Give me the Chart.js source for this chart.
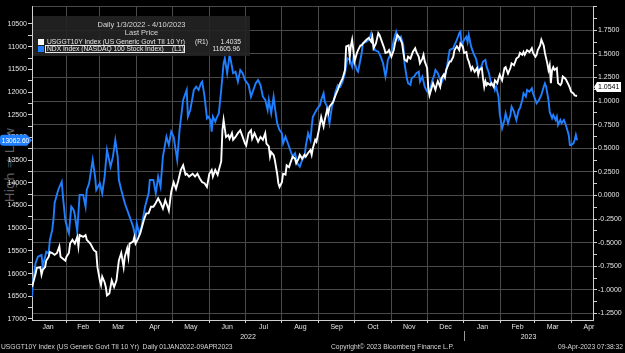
<!DOCTYPE html>
<html><head><meta charset="utf-8">
<script src="https://cdn.jsdelivr.net/npm/chart.js@4.4.0/dist/chart.umd.min.js"></script>
<style>
html,body{margin:0;padding:0;background:#000;}
#wrap{position:relative;width:625px;height:353px;overflow:hidden;background:#000;font-family:"Liberation Sans",Arial,sans-serif;}
#c{position:absolute;left:0;top:0;}
.t{position:absolute;white-space:pre;color:#e8e8e8;line-height:8px;}
.h{font-size:7.5px;color:#d8d8d8;}
.r{font-size:6.7px;}
.f{font-size:6.7px;color:#d6d6d6;top:343px;}
.sq{position:absolute;width:6px;height:6px;}
</style></head>
<body>
<div id="wrap">
<div class="t" style="left:-30px;top:158px;width:80px;text-align:center;font-family:'DejaVu Sans',sans-serif;font-size:13px;line-height:14px;color:#5e5e5e;transform:rotate(-90deg);">High ⇒ Low</div>
<canvas id="c" width="625" height="353"></canvas>
<div style="position:absolute;left:33px;top:16px;width:217px;height:40px;background:rgba(36,36,36,0.9);"></div>
<div class="t h" style="left:33px;width:217px;text-align:center;top:21px">Daily 1/3/2022 - 4/10/2023</div>
<div class="t h" style="left:33px;width:217px;text-align:center;top:29px">Last Price</div>
<div class="sq" style="left:38px;top:39px;background:#fff;"></div>
<div class="t r" style="left:47px;top:38px">USGGT10Y Index (US Generic Govt TII 10 Yr)</div>
<div class="t r" style="left:195px;top:38px">(R1)</div>
<div class="t r" style="right:384px;top:38px">1.4035</div>
<div class="sq" style="left:38px;top:46px;background:#1f7fff;"></div>
<div style="position:absolute;left:45px;top:44.5px;width:140px;height:8px;border:1px solid #e8e8e8;box-sizing:border-box;"></div>
<div class="t r" style="left:47px;top:45px">NDX Index (NASDAQ 100 Stock Index)</div>
<div class="t r" style="left:172px;top:45px">(L1)</div>
<div class="t r" style="right:385px;top:45px">11605.96</div>
<div class="t f" style="left:1px;">USGGT10Y Index (US Generic Govt TII 10 Yr)  Daily 01JAN2022-09APR2023</div>
<div class="t f" style="left:331px;">Copyright© 2023 Bloomberg Finance L.P.</div>
<div class="t f" style="right:2px;">09-Apr-2023 07:38:32</div>
</div>
<script>
// x values: calendar days elapsed since 2022-01-03
const START_DATE = Date.UTC(2022, 0, 3);
const X_MAX = 471.4;

const ndxDay = [0,1,3,5,8,9,12,14,15,17,18,19,22,25,26,28,30,31,33,35,36,38,40,43,45,46,48,51,53,54,57,59,61,63,66,68,70,72,73,75,78,80,82,85,87,88,90,92,95,98,99,102,104,106,108,110,113,115,117,119,122,124,126,127,130,131,133,136,138,140,142,143,145,147,148,150,151,152,154,155,157,159,161,162,164,166,167,169,171,173,175,177,179,182,184,186,188,190,192,194,196,198,199,201,203,204,206,208,210,211,213,215,217,219,221,223,225,227,229,230,232,234,235,236,239,241,242,243,245,246,248,249,250,252,254,255,257,259,261,263,265,267,269,270,273,274,277,278,281,283,285,287,288,291,293,295,297,298,299,301,302,304,306,308,310,312,313,315,316,318,319,321,323,325,326,328,330,332,334,336,338,339,341,343,344,346,348,350,351,354,355,357,359,360,361,363,365,366,367,369,371,373,374,375,377,379,381,382,384,386,388,389,390,392,393,395,397,398,400,402,403,405,407,409,410,412,413,415,416,418,420,421,423,424,426,428,430,431,432,434,435,437,438,440,441,442,444,445,447,449,451,452,453,455,456,457,458];
const ndxValue = [16509,16141,15773,15628,15590,15848,15518,15553,15260,15039,14819,14444,14158,13975,14306,14819,15039,15112,14526,14599,14709,15077,14268,14268,14526,14158,14010,13497,13865,14158,14010,14231,13865,13277,13645,13424,13056,13424,13938,14158,14451,14599,14746,14967,15222,14892,15112,14967,14526,14231,13938,13938,14231,13865,14085,13424,12983,13166,12873,12983,13497,12836,12395,12175,11954,12543,12395,11954,11882,11954,11807,11771,12102,12578,12543,12615,12873,12543,12653,12578,12468,11954,11366,11256,11586,11183,11293,11586,11551,11771,11514,11586,11734,11844,12102,11954,11807,11734,11844,12102,12175,12395,12175,12468,12102,12322,12688,12836,12909,13129,12983,13129,13277,13424,13349,13570,13645,13497,13424,13204,12909,13056,12763,12543,12395,12322,12285,12175,12027,12212,12322,12543,12688,12322,12137,11992,11844,11882,11771,11586,11256,11293,11441,11256,11514,11551,11146,10925,10890,10853,10705,10963,11073,11110,11221,11366,11661,11514,11293,11183,11110,10853,10670,10853,10780,10963,11366,11697,11807,11844,11697,11661,11586,11551,11771,11661,11882,11992,12027,11771,11624,11514,11586,11734,11807,11661,11551,11221,11073,11035,10963,10853,10705,10670,10963,10853,10780,10897,10742,11000,11146,11256,11366,11514,11476,11331,11293,11441,11586,11844,11807,11954,11882,12102,12468,12798,12615,12468,12688,12505,12322,12433,12615,12395,12358,12175,12027,12102,11954,11992,11917,12027,12175,12247,12175,12065,11882,11807,11882,12175,12433,12578,12505,12615,12543,12726,12615,12688,12615,12763,12946,13166,13166,13129,13056,12946,13062.60];

const tiiDay = [0,3,4,7,8,9,11,12,14,15,17,19,21,23,24,26,28,29,31,32,34,36,38,39,40,43,45,46,49,52,54,55,57,58,59,61,62,63,65,66,67,69,71,72,73,75,77,78,80,81,82,85,86,87,89,91,94,96,98,100,102,104,106,108,110,112,114,115,117,119,121,123,125,127,129,130,132,135,137,139,141,143,145,147,149,151,152,154,156,157,159,160,161,163,165,166,168,169,171,173,175,177,179,180,182,184,185,187,189,190,192,194,196,197,199,200,201,203,204,206,207,208,210,211,213,214,216,217,219,221,222,224,225,227,229,230,232,234,235,236,238,239,241,242,243,245,246,248,249,250,253,255,257,259,261,263,264,266,267,268,269,270,271,273,274,276,277,278,281,283,285,286,287,289,291,292,294,296,297,299,300,302,304,305,307,309,311,312,313,315,316,318,320,322,323,325,326,328,329,330,332,333,334,336,337,339,340,341,343,344,346,347,348,351,352,354,355,357,359,360,362,363,365,366,367,369,370,372,374,375,376,378,379,380,381,382,383,385,386,388,389,391,392,393,395,397,398,400,402,403,405,407,409,410,412,413,414,416,418,420,421,423,424,425,427,428,430,431,433,434,435,436,437,438,439,441,442,444,445,446,448,449,451,452,453,455,456,458];
const tiiValue = [-0.97,-0.83,-0.77,-0.76,-0.84,-0.79,-0.76,-0.69,-0.65,-0.60,-0.61,-0.63,-0.61,-0.54,-0.65,-0.67,-0.69,-0.65,-0.61,-0.51,-0.47,-0.51,-0.44,-0.54,-0.42,-0.44,-0.42,-0.47,-0.51,-0.58,-0.60,-0.76,-0.90,-0.95,-0.86,-0.92,-0.97,-1.06,-1.04,-0.97,-0.90,-0.97,-0.90,-0.79,-0.69,-0.61,-0.76,-0.65,-0.56,-0.65,-0.51,-0.49,-0.44,-0.51,-0.46,-0.40,-0.26,-0.19,-0.19,-0.12,-0.12,-0.08,-0.03,-0.08,-0.14,-0.05,-0.12,-0.16,0.04,0.14,0.07,0.16,0.27,0.32,0.22,0.23,0.20,0.23,0.20,0.23,0.18,0.14,0.13,0.09,0.23,0.27,0.20,0.27,0.22,0.27,0.36,0.69,0.80,0.62,0.64,0.60,0.66,0.59,0.62,0.66,0.69,0.62,0.55,0.53,0.66,0.69,0.60,0.66,0.60,0.57,0.62,0.59,0.66,0.55,0.52,0.41,0.46,0.43,0.38,0.23,0.13,0.09,0.14,0.23,0.22,0.32,0.30,0.34,0.41,0.39,0.34,0.39,0.43,0.39,0.43,0.41,0.45,0.48,0.43,0.50,0.59,0.57,0.69,0.76,0.83,0.73,0.80,0.91,0.87,0.94,0.99,1.06,1.12,1.19,1.24,1.33,1.58,1.59,1.47,1.59,1.65,1.54,1.42,1.51,1.54,1.59,1.59,1.61,1.65,1.67,1.63,1.68,1.56,1.61,1.72,1.70,1.63,1.56,1.51,1.52,1.54,1.47,1.54,1.61,1.70,1.67,1.61,1.52,1.44,1.42,1.47,1.45,1.52,1.56,1.52,1.47,1.40,1.45,1.49,1.42,1.35,1.14,1.06,1.15,1.19,1.12,1.17,1.21,1.15,1.24,1.28,1.25,1.33,1.42,1.42,1.47,1.54,1.58,1.54,1.61,1.58,1.51,1.52,1.45,1.42,1.33,1.36,1.31,1.35,1.28,1.33,1.35,1.24,1.15,1.21,1.17,1.19,1.17,1.19,1.15,1.22,1.19,1.24,1.28,1.22,1.35,1.36,1.29,1.35,1.40,1.38,1.45,1.47,1.51,1.49,1.52,1.49,1.54,1.52,1.56,1.51,1.47,1.49,1.54,1.59,1.65,1.59,1.51,1.40,1.33,1.38,1.19,1.33,1.36,1.33,1.35,1.19,1.17,1.19,1.26,1.24,1.22,1.17,1.14,1.10,1.08,1.06,1.0541];

const monthNames = ['Jan','Feb','Mar','Apr','May','Jun','Jul','Aug','Sep','Oct','Nov','Dec','Jan','Feb','Mar','Apr'];
const yearLabels = ['2022','2023'];
const leftTicks = [10500,11000,11500,12000,12500,13000,13500,14000,14500,15000,15500,16000,16500,17000];
const rightTicks = [-1.25,-1.00,-0.75,-0.50,-0.25,0.00,0.25,0.50,0.75,1.00,1.25,1.50,1.75];

const FONT = '"Liberation Sans", Arial, sans-serif';
function dayOf(y, m, d) { return (Date.UTC(y, m - 1, d) - START_DATE) / 864e5; }

// x ticks: month boundaries (grid) and mid-month (labels)
const xTickVals = [], xTickLbl = [], xTickBoundary = [];
for (let i = 0; i < monthNames.length; i++) {
  const y = 2022 + Math.floor(i / 12), m = (i % 12) + 1;
  const s = dayOf(y, m, 1);
  const e = dayOf(m === 12 ? y + 1 : y, m === 12 ? 1 : m + 1, 1);
  if (i > 0) { xTickVals.push(s); xTickLbl.push(''); xTickBoundary.push(true); }
  xTickVals.push((s + e) / 2); xTickLbl.push(monthNames[i]); xTickBoundary.push(false);
}
const yearSplit = dayOf(2023, 1, 1);
const yearVals = [(0 + yearSplit) / 2, (yearSplit + X_MAX) / 2];

// left ticks with minor marks
const lTickVals = [], lTickLbl = [];
leftTicks.forEach((v, i) => {
  lTickVals.push(v); lTickLbl.push(String(v));
  if (i < leftTicks.length - 1) { lTickVals.push(v + 250); lTickLbl.push(''); }
});
const rTickVals = [], rTickLbl = [], rTickMajor = [];
rightTicks.forEach((v, i) => {
  rTickVals.push(v); rTickLbl.push(v.toFixed(4)); rTickMajor.push(true);
  rTickVals.push(v + 0.125); rTickLbl.push(''); rTickMajor.push(false);
});
rTickVals.push(2.0); rTickLbl.push(''); rTickMajor.push(true);

const tagPlugin = {
  id: 'tags',
  afterDraw(chart) {
    const c = chart.ctx, yL = chart.scales.yL, yR = chart.scales.yR, x = chart.scales.x;
    c.save();
    // year separator
    const xs = Math.round(x.getPixelForValue(yearSplit)) + 0.5;
    c.strokeStyle = '#9a9a9a'; c.lineWidth = 1;
    c.beginPath(); c.moveTo(xs, 331); c.lineTo(xs, 341); c.stroke();
    // left tag
    const lastN = ndxValue[ndxValue.length - 1];
    const yb = yL.getPixelForValue(lastN);
    c.fillStyle = '#1f7fff';
    c.beginPath();
    c.moveTo(3, yb - 5.5); c.lineTo(27, yb - 5.5); c.lineTo(32, yb); c.lineTo(27, yb + 5.5);
    c.lineTo(3, yb + 5.5); c.quadraticCurveTo(0, yb + 5.5, 0, yb + 2.5); c.lineTo(0, yb - 2.5);
    c.quadraticCurveTo(0, yb - 5.5, 3, yb - 5.5); c.closePath(); c.fill();
    c.fillStyle = '#ffffff'; c.font = '6.6px ' + FONT; c.textAlign = 'center'; c.textBaseline = 'middle';
    c.fillText(lastN.toFixed(2), 15.5, yb + 0.5);
    // right tag
    const lastT = tiiValue[tiiValue.length - 1];
    const yw = yR.getPixelForValue(lastT) - 9;
    c.fillStyle = '#ffffff';
    c.beginPath();
    c.moveTo(594, yw); c.lineTo(597, yw - 5); c.lineTo(621, yw - 5); c.lineTo(621, yw + 5); c.lineTo(597, yw + 5); c.closePath(); c.fill();
    c.fillStyle = '#000000'; c.textAlign = 'left'; c.font = '7px ' + FONT;
    c.fillText(lastT.toFixed(4), 598, yw + 0.5);
    c.restore();
  }
};

new Chart(document.getElementById('c'), {
  type: 'line',
  data: {
    datasets: [
      { label: 'USGGT10Y Index', data: tiiDay.map((d, i) => ({ x: d, y: tiiValue[i] })), yAxisID: 'yR', xAxisID: 'x',
        borderColor: '#ffffff', borderWidth: 1.9, pointRadius: 0, tension: 0, fill: false },
      { label: 'NDX Index', data: ndxDay.map((d, i) => ({ x: d, y: ndxValue[i] })), yAxisID: 'yL', xAxisID: 'x',
        borderColor: '#1f7fff', borderWidth: 1.9, pointRadius: 0, tension: 0, fill: false }
    ]
  },
  options: {
    responsive: false, animation: false, devicePixelRatio: 1,
    layout: { padding: { top: 6.7, bottom: 11, left: 0, right: 0 } },
    plugins: { legend: { display: false }, tooltip: { enabled: false } },
    scales: {
      x: {
        type: 'linear', position: 'bottom', min: 0, max: X_MAX, weight: 0,
        afterBuildTicks(s) { s.ticks = xTickVals.map(v => ({ value: v })); },
        afterFit(s) { s.height = 12; },
        ticks: { autoSkip: false, maxRotation: 0, minRotation: 0, padding: 0, color: '#e4e4e4',
          font: { size: 7, family: FONT }, callback: (v, i) => xTickLbl[i] },
        grid: { color: c => xTickBoundary[c.index] ? '#4a4a4a' : 'rgba(0,0,0,0)', borderDash: [1, 2],
          tickColor: c => xTickBoundary[c.index] ? '#cfcfcf' : 'rgba(0,0,0,0)', tickBorderDash: [], tickLength: 3, lineWidth: 1 },
        border: { display: true, color: '#cfcfcf' }
      },
      xYear: {
        type: 'linear', position: 'bottom', min: 0, max: X_MAX, weight: 1,
        afterBuildTicks(s) { s.ticks = yearVals.map(v => ({ value: v })); },
        afterFit(s) { s.height = 10; },
        ticks: { autoSkip: false, maxRotation: 0, minRotation: 0, padding: 1, color: '#e4e4e4',
          font: { size: 7, family: FONT }, callback: (v, i) => yearLabels[i] },
        grid: { display: false, drawTicks: false },
        border: { display: false }
      },
      yL: {
        type: 'linear', position: 'left', reverse: true, min: 10119, max: 17023,
        afterBuildTicks(s) { s.ticks = lTickVals.map(v => ({ value: v })); },
        afterFit(s) { s.width = 32; },
        ticks: { autoSkip: false, padding: 1, color: '#e4e4e4', font: { size: 7, family: FONT }, callback: (v, i) => lTickLbl[i] },
        grid: { drawOnChartArea: false, tickLength: 4, tickColor: '#d0d0d0' },
        border: { display: true, color: '#d0d0d0' }
      },
      yR: {
        type: 'linear', position: 'right', min: -1.32, max: 2.0,
        afterBuildTicks(s) { s.ticks = rTickVals.map(v => ({ value: v })); },
        afterFit(s) { s.width = 32; },
        ticks: { autoSkip: false, padding: 1, color: '#e4e4e4', font: { size: 7, family: FONT }, callback: (v, i) => rTickLbl[i] },
        grid: { color: c => rTickMajor[c.index] ? '#4a4a4a' : 'rgba(0,0,0,0)', borderDash: [1, 2],
          tickColor: '#d0d0d0', tickBorderDash: [], tickLength: 4 },
        border: { display: true, color: '#d0d0d0' }
      }
    }
  },
  plugins: [tagPlugin]
});
</script>
</body></html>
